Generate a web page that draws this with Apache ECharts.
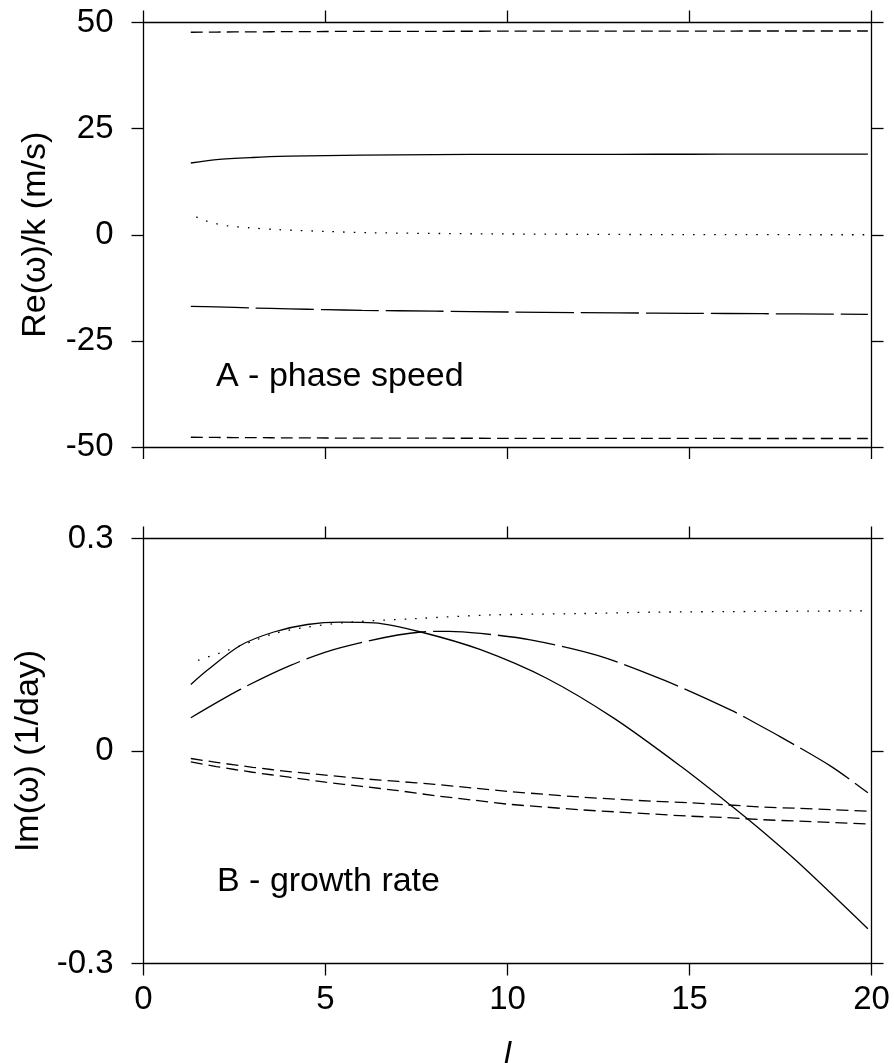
<!DOCTYPE html>
<html>
<head>
<meta charset="utf-8">
<script src="https://cdn.jsdelivr.net/npm/echarts@6/dist/echarts.min.js"></script>
<style>
  html, body { margin: 0; padding: 0; background: #fff; }
  #chart { width: 894px; height: 1063px; }
</style>
</head>
<body>
<div id="chart"></div>
<script>
// ---------- data ----------
const xTicks = [0, 5, 10, 15, 20];
const yTicksA = [-50, -25, 0, 25, 50];
const yTicksB = [-0.3, 0, 0.3];

// Panel A: phase speed Re(w)/k (m/s)
const lA = [1.3, 2.0, 3.0, 4.0, 5.0, 6.0, 8.0, 10.0, 12.0, 14.0, 16.0, 18.0, 19.9];
const phaseDashUpper = [47.7, 47.75, 47.8, 47.85, 47.88, 47.9, 47.93, 47.95, 47.97, 47.98, 47.99, 48.0, 48.0];
const phaseSolid     = [16.9, 17.7, 18.2, 18.5, 18.65, 18.75, 18.88, 18.93, 18.95, 18.96, 18.97, 18.97, 18.97];
const phaseLongDash  = [-16.85, -17.0, -17.25, -17.45, -17.65, -17.8, -18.0, -18.2, -18.35, -18.45, -18.55, -18.65, -18.75];
const phaseDashLower = [-47.7, -47.75, -47.8, -47.85, -47.88, -47.9, -47.93, -47.95, -47.97, -47.98, -47.99, -48.0, -48.0];
const lADot = [1.45, 1.7, 2.0, 2.3, 2.9, 3.7, 5.0, 6.3, 9.0, 13.0, 16.0, 19.9];
const phaseDotted = [4.2, 3.3, 2.6, 2.1, 1.65, 1.2, 0.78, 0.47, 0.24, 0.07, 0.02, 0.0];

// Panel B: growth rate Im(w) (1/day)
const lBSolid = [1.3, 1.75, 2.66, 3.58, 4.5, 5.42, 6.34, 7.62, 9.26, 11.1, 12.93, 14.77, 16.14, 16.97, 18.04, 19.9];
const growthSolid = [0.094, 0.114, 0.149, 0.168, 0.1786, 0.182, 0.181, 0.168, 0.143, 0.102, 0.046, -0.022, -0.077, -0.112, -0.160, -0.251];
const lBLong = [1.3, 2.66, 4.04, 5.42, 7.62, 8.4, 9.26, 10.63, 12.47, 14.3, 16.14, 16.97, 17.5, 18.9, 19.9];
const growthLongDash = [0.047, 0.087, 0.121, 0.146, 0.168, 0.169, 0.166, 0.157, 0.135, 0.100, 0.0576, 0.035, 0.020, -0.022, -0.059];
const lB = [1.3, 2, 3, 4, 5, 6, 7, 8, 9, 10, 11, 12, 13, 14, 15, 16, 17, 18, 19, 19.9];
const growthDashUpper = [-0.0106, -0.016, -0.023, -0.029, -0.034, -0.039, -0.043, -0.047, -0.052, -0.057, -0.061, -0.065, -0.068, -0.071, -0.073, -0.076, -0.079, -0.081, -0.083, -0.085];
const growthDashLower = [-0.0154, -0.022, -0.030, -0.037, -0.044, -0.050, -0.056, -0.063, -0.069, -0.075, -0.079, -0.083, -0.086, -0.089, -0.092, -0.094, -0.097, -0.099, -0.101, -0.103];
const lBDot = [1.5, 2.3, 3.0, 3.6, 4.5, 5.7, 7.5, 9.5, 12.0, 14.0, 16.8, 19.9];
const growthDotted = [0.128, 0.142, 0.155, 0.166, 0.175, 0.182, 0.187, 0.192, 0.194, 0.196, 0.197, 0.198];

// ---------- chart ----------
const FONT = '"Liberation Sans", Arial, Helvetica, sans-serif';
const BLACK = '#000';
const pairs = (xs, ys) => xs.map((x, i) => [x, ys[i]]);

const SHORT = [12, 6];
const LONG = [58, 7];
const DOT = [1.6, 9];

function frameX(grid, pos, showLabels, extra) {
  return Object.assign({
    type: 'value', gridIndex: grid, position: pos,
    min: 0, max: 20, interval: 5,
    axisLine: { show: true, onZero: false, lineStyle: { color: BLACK, width: 1.3 } },
    axisTick: { show: true, inside: false, length: 12, lineStyle: { color: BLACK, width: 1.3 } },
    axisLabel: { show: showLabels, margin: 20, color: BLACK, fontSize: 33, fontFamily: FONT },
    splitLine: { show: false }
  }, extra || {});
}
function frameY(grid, pos, min, max, interval, showLabels, extra) {
  return Object.assign({
    type: 'value', gridIndex: grid, position: pos,
    min: min, max: max, interval: interval,
    axisLine: { show: true, onZero: false, lineStyle: { color: BLACK, width: 1.3 } },
    axisTick: { show: true, inside: false, length: 12, lineStyle: { color: BLACK, width: 1.3 } },
    axisLabel: { show: showLabels, margin: 30, color: BLACK, fontSize: 33, fontFamily: FONT },
    splitLine: { show: false }
  }, extra || {});
}
function line(name, xi, yi, data, dash) {
  return {
    name: name, type: 'line', xAxisIndex: xi, yAxisIndex: yi, data: data,
    showSymbol: false, symbol: 'none', smooth: 0.3, silent: true,
    lineStyle: { color: BLACK, width: 1.3, type: dash, cap: 'butt' }
  };
}

const chart = echarts.init(document.getElementById('chart'), null, { renderer: 'canvas' });
chart.setOption({
  animation: false,
  backgroundColor: '#fff',
  grid: [
    { left: 143.5, width: 728, top: 22.5, height: 424.5, containLabel: false, outerBoundsMode: 'none' },
    { left: 143.5, width: 728, top: 538.5, height: 425, containLabel: false, outerBoundsMode: 'none' }
  ],
  xAxis: [
    frameX(0, 'bottom', false),
    frameX(0, 'top', false),
    frameX(1, 'bottom', true, {
      name: 'l', nameLocation: 'middle', nameGap: 76,
      nameTextStyle: { color: BLACK, fontSize: 33, fontFamily: FONT, fontStyle: 'italic' }
    }),
    frameX(1, 'top', false)
  ],
  yAxis: [
    frameY(0, 'left', -50, 50, 25, true, {
      name: 'Re(ω)/k (m/s)', nameLocation: 'middle', nameGap: 91,
      nameTextStyle: { color: BLACK, fontSize: 34, fontFamily: FONT }
    }),
    frameY(0, 'right', -50, 50, 25, false),
    frameY(1, 'left', -0.3, 0.3, 0.3, true, {
      name: 'Im(ω) (1/day)', nameLocation: 'middle', nameGap: 91,
      nameTextStyle: { color: BLACK, fontSize: 34, fontFamily: FONT }
    }),
    frameY(1, 'right', -0.3, 0.3, 0.3, false)
  ],
  graphic: [
    { type: 'text', left: 216, top: 360, style: { text: 'A - phase speed', fill: BLACK, font: '34px ' + FONT } },
    { type: 'text', left: 217, top: 865, style: { text: 'B - growth rate', fill: BLACK, font: '34px ' + FONT } }
  ],
  series: [
    line('A dash upper', 0, 0, pairs(lA, phaseDashUpper), SHORT),
    line('A solid', 0, 0, pairs(lA, phaseSolid), 'solid'),
    line('A dotted', 0, 0, pairs(lADot, phaseDotted), DOT),
    line('A long dash', 0, 0, pairs(lA, phaseLongDash), LONG),
    line('A dash lower', 0, 0, pairs(lA, phaseDashLower), SHORT),
    line('B solid', 2, 2, pairs(lBSolid, growthSolid), 'solid'),
    line('B long dash', 2, 2, pairs(lBLong, growthLongDash), LONG),
    line('B dotted', 2, 2, pairs(lBDot, growthDotted), DOT),
    line('B dash upper', 2, 2, pairs(lB, growthDashUpper), SHORT),
    line('B dash lower', 2, 2, pairs(lB, growthDashLower), SHORT)
  ]
});
</script>
</body>
</html>
